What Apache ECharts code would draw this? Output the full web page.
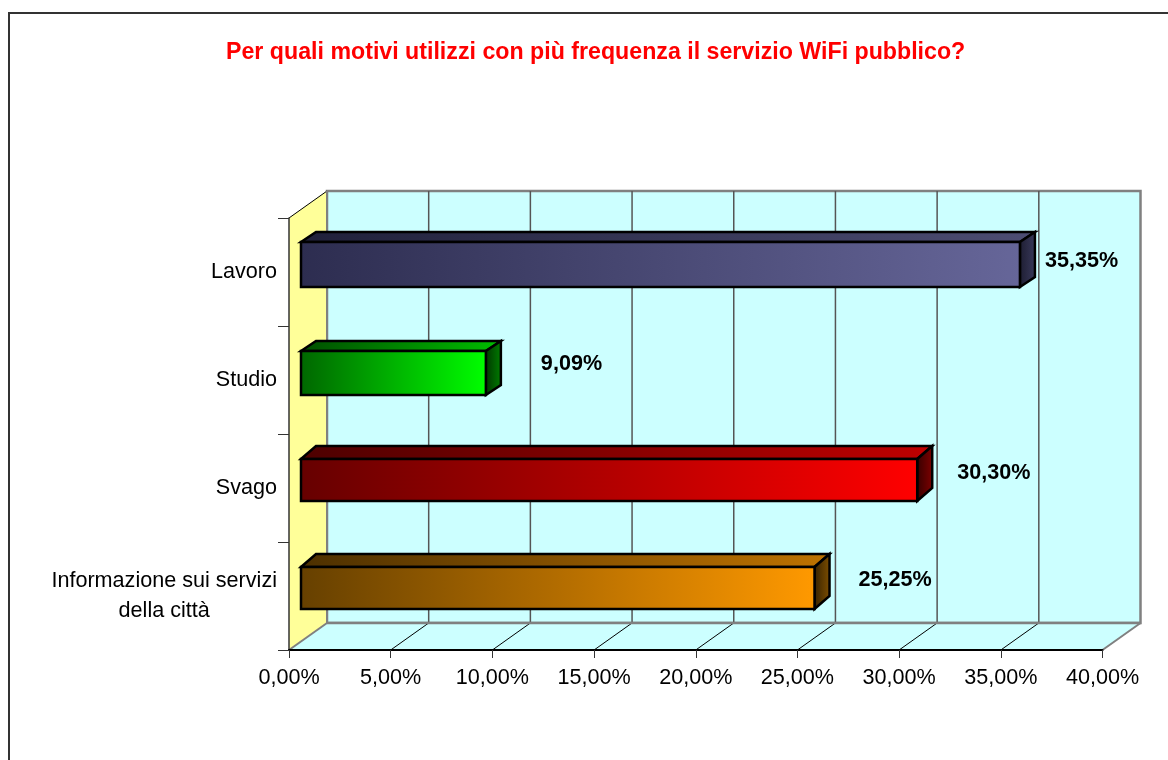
<!DOCTYPE html>
<html>
<head>
<meta charset="utf-8">
<style>
    html, body { margin: 0; padding: 0; background: #fff; }
    #chart { width: 1168px; height: 760px; }
</style>
<script src="https://cdn.jsdelivr.net/npm/echarts@6/dist/echarts.min.js"></script>
</head>
<body>
<div id="chart"></div>
<script>
var categories = ['Lavoro', 'Studio', 'Svago', 'Informazione sui servizi\ndella città'];
var values = [35.35, 9.09, 30.30, 25.25];
var ticks = [0, 5, 10, 15, 20, 25, 30, 35, 40];

// face colours per bar: [front left, front right, top left, top right, side left, side right]
var barColors = [
    ['#2d2d50', '#666699', '#20203a', '#4d4d73', '#1c1c30', '#3a3a5c'],
    ['#006600', '#00ff00', '#004d00', '#00bf00', '#003300', '#008000'],
    ['#660000', '#ff0000', '#4d0000', '#bf0000', '#330000', '#800000'],
    ['#664000', '#ff9900', '#4d3000', '#bf7300', '#332000', '#805000']
];
// the bars are not quite even in the original: [top, bottom, depth] from the band centre
var barBox = [[-30, 15, 10], [-29, 15, 10], [-29, 13, 13], [-29, 13, 13]];
// hand placed labels in the original, offset from the end of the bar
var labelNudge = [[25, -11], [55, -16], [40, -15], [44, -16]];

var DEPTH_X = 38, DEPTH_Y = 27;
var BAR_DX = 15;
var FONT = '"Liberation Sans", Arial, sans-serif';

var myChart = echarts.init(document.getElementById('chart'));

function hGrad(c0, c1) {
    return new echarts.graphic.LinearGradient(0, 0, 1, 0, [
        {offset: 0, color: c0},
        {offset: 1, color: c1}
    ]);
}

function poly(points, fill, stroke, lineWidth) {
    return {
        type: 'polygon',
        shape: {points: points},
        style: {fill: fill, stroke: stroke, lineWidth: lineWidth, lineJoin: 'miter'}
    };
}

function line(x1, y1, x2, y2, color, lineWidth) {
    return {
        type: 'line',
        shape: {x1: x1, y1: y1, x2: x2, y2: y2},
        style: {stroke: color, lineWidth: lineWidth}
    };
}

function renderWalls(params, api) {
    var cs = params.coordSys;
    var l = cs.x, r = cs.x + cs.width, t = cs.y, b = cs.y + cs.height;
    var items = [
        poly([[l + DEPTH_X, t - DEPTH_Y], [r + DEPTH_X, t - DEPTH_Y], [r + DEPTH_X, b - DEPTH_Y], [l + DEPTH_X, b - DEPTH_Y]], '#ccffff', '#808080', 2.5),
        poly([[l, t], [l + DEPTH_X, t - DEPTH_Y], [l + DEPTH_X, b - DEPTH_Y], [l, b]], '#ffff99', null, 0),
        poly([[l, b], [l + DEPTH_X, b - DEPTH_Y], [r + DEPTH_X, b - DEPTH_Y], [r, b]], '#ccffff', null, 0)
    ];
    ticks.forEach(function (tick) {
        var x = api.coord([tick, 0])[0];
        if (tick > 0 && tick < 40) {
            items.push(line(x + DEPTH_X, t - DEPTH_Y, x + DEPTH_X, b - DEPTH_Y, '#555555', 1.5));
            items.push(line(x, b, x + DEPTH_X, b - DEPTH_Y, '#000000', 1));
        }
    });
    // wall edges
    items.push(line(l, t, l + DEPTH_X, t - DEPTH_Y, '#000000', 1));
    items.push(line(l + DEPTH_X, t - DEPTH_Y, l + DEPTH_X, b - DEPTH_Y, '#808080', 2));
    items.push(line(l + DEPTH_X, b - DEPTH_Y, r + DEPTH_X, b - DEPTH_Y, '#808080', 2.5));
    items.push(line(l, b, l + DEPTH_X, b - DEPTH_Y, '#808080', 2));
    items.push(line(r, b, r + DEPTH_X, b - DEPTH_Y, '#808080', 2));
    return {type: 'group', children: items};
}

function renderBar(params, api) {
    var i = params.dataIndex;
    var value = api.value(0);
    var start = api.coord([0, i]);
    var end = api.coord([value, i]);
    var colors = barColors[i];
    var box = barBox[i];
    var x0 = start[0] + 12;
    var x1 = end[0] + 12;
    var y0 = end[1] + box[0];
    var y1 = end[1] + box[1];
    var dy = box[2];
    var nudge = labelNudge[i];

    return {
        type: 'group',
        children: [
            poly([[x0, y0], [x0 + BAR_DX, y0 - dy], [x1 + BAR_DX, y0 - dy], [x1, y0]], hGrad(colors[2], colors[3]), '#000000', 2.5),
            poly([[x1, y0], [x1 + BAR_DX, y0 - dy], [x1 + BAR_DX, y1 - dy], [x1, y1]], hGrad(colors[4], colors[5]), '#000000', 2.5),
            poly([[x0, y0], [x1, y0], [x1, y1], [x0, y1]], hGrad(colors[0], colors[1]), '#000000', 2.5),
            {
                type: 'text',
                style: {
                    x: x1 + nudge[0],
                    y: end[1] + nudge[1],
                    text: value.toFixed(2).replace('.', ',') + '%',
                    fill: '#000000',
                    font: 'bold 21.6px ' + FONT,
                    textAlign: 'left',
                    textVerticalAlign: 'middle'
                }
            }
        ]
    };
}

var option = {
    animation: false,
    backgroundColor: '#ffffff',
    textStyle: {fontFamily: FONT},
    title: {
        text: 'Per quali motivi utilizzi con più frequenza il servizio WiFi pubblico?',
        left: 221,
        top: 36,
        textStyle: {color: '#ff0000', fontSize: 23.2, fontWeight: 'bold', fontFamily: FONT}
    },
    graphic: [{
        type: 'polyline',
        shape: {points: [[9, 800], [9, 13], [1200, 13]]},
        style: {stroke: '#333333', lineWidth: 2, fill: null},
        silent: true
    }],
    grid: {left: 289, top: 218, width: 813.5, height: 432},
    xAxis: {
        type: 'value',
        min: 0,
        max: 40,
        interval: 5,
        z: 2,
        splitLine: {show: false},
        axisLine: {show: true, onZero: false, lineStyle: {color: '#000000', width: 2}},
        axisTick: {show: true, length: 8, lineStyle: {color: '#333333', width: 1}},
        axisLabel: {
            color: '#000000',
            fontSize: 21.6,
            margin: 17,
            hideOverlap: false,
            formatter: function (v) {
                return v.toFixed(2).replace('.', ',') + '%';
            }
        }
    },
    yAxis: {
        type: 'category',
        inverse: true,
        data: categories,
        z: 2,
        axisLine: {show: true, lineStyle: {color: '#333333', width: 1.5}},
        axisTick: {show: true, length: 11, alignWithLabel: false, lineStyle: {color: '#333333', width: 1}},
        axisLabel: {
            color: '#000000',
            fontSize: 21.6,
            margin: 12,
            interval: 0,
            lineHeight: 30,
            formatter: function (v) {
                if (v.indexOf('\n') < 0) {
                    return v;
                }
                return v.split('\n').map(function (part) {
                    return '{c|' + part + '}';
                }).join('\n');
            },
            rich: {c: {align: 'center', fontSize: 21.6, lineHeight: 30, color: '#000000'}}
        }
    },
    series: [
        {
            name: 'walls',
            type: 'custom',
            renderItem: renderWalls,
            data: [[0, 0]],
            encode: {x: 0, y: 1},
            silent: true,
            z: 1
        },
        {
            name: 'bars',
            type: 'custom',
            renderItem: renderBar,
            data: values.map(function (v, i) { return [v, i]; }),
            encode: {x: 0, y: 1},
            silent: true,
            z: 3
        }
    ]
};
myChart.setOption(option);
</script>
</body>
</html>
